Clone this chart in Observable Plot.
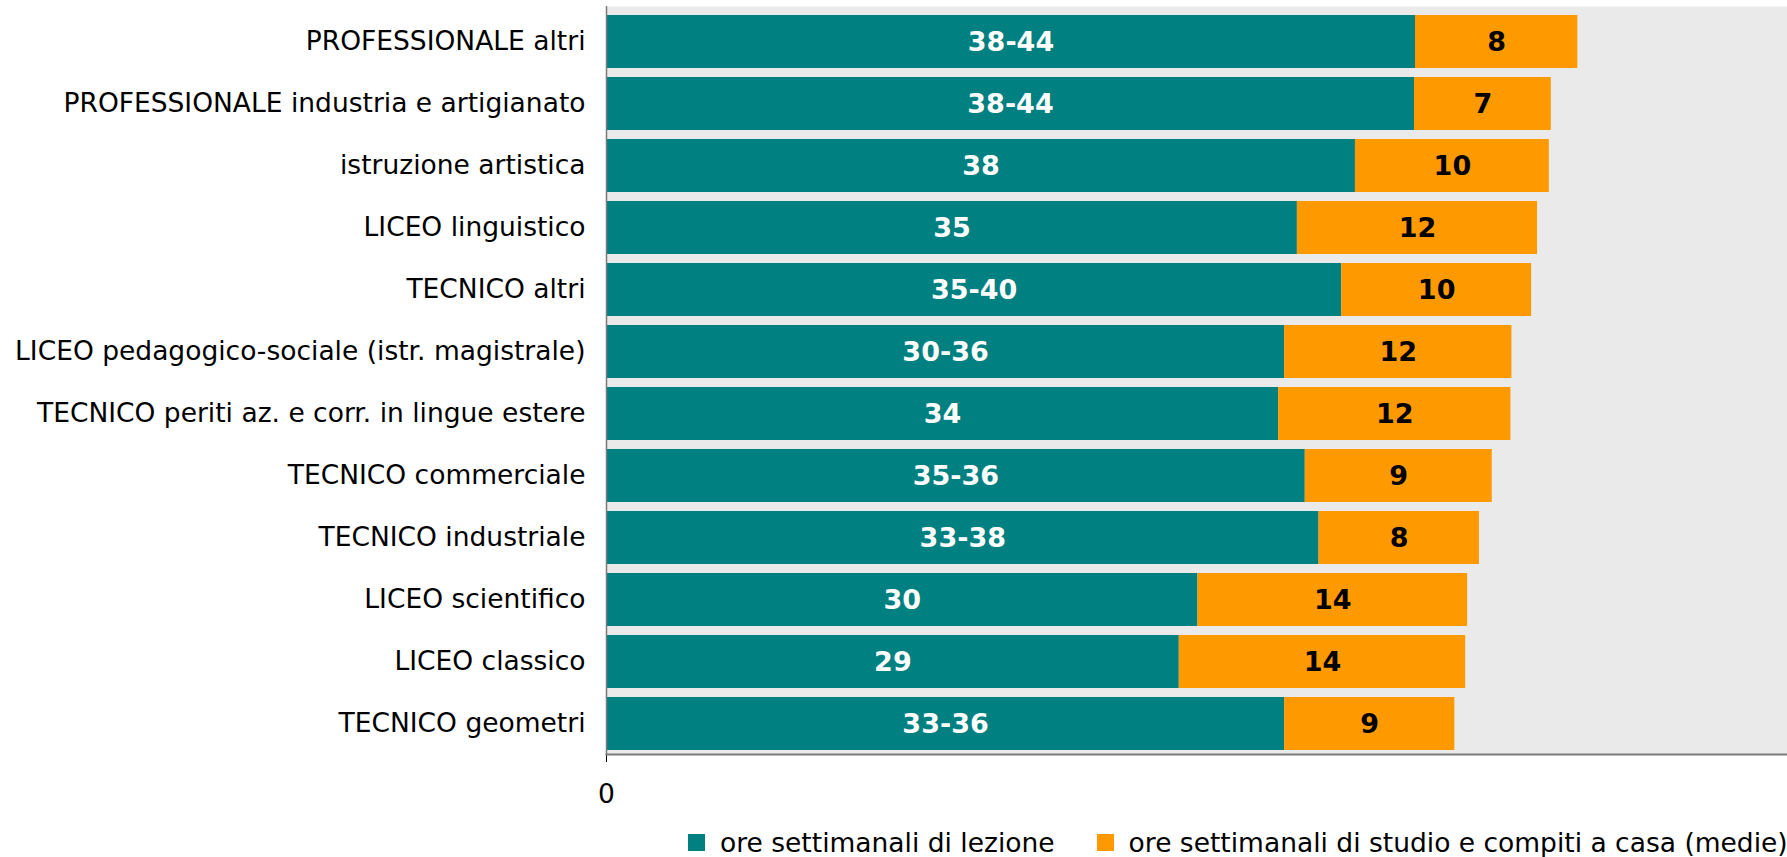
<!DOCTYPE html>
<html>
<head>
<meta charset="utf-8">
<script src="https://cdn.jsdelivr.net/npm/d3@7"></script>
<script src="https://cdn.jsdelivr.net/npm/@observablehq/plot@0.6"></script>
<style>
  body { margin: 0; background: #fff; font-family: "DejaVu Sans", Verdana, sans-serif; }
  #legend { display: flex; align-items: center; height: 64px; padding-left: 688px; font-size: 26.5px; color: #000; white-space: nowrap; }
  .sw { width: 17px; height: 17px; display: inline-block; margin-right: 15px; flex: none; }
  .item { display: flex; align-items: center; margin-right: 42px; flex: none; white-space: nowrap; }
</style>
</head>
<body>
<div id="chart"></div>
<div id="legend"></div>
<script>
const categories = [
  "PROFESSIONALE altri",
  "PROFESSIONALE industria e artigianato",
  "istruzione artistica",
  "LICEO linguistico",
  "TECNICO altri",
  "LICEO pedagogico-sociale (istr. magistrale)",
  "TECNICO periti az. e corr. in lingue estere",
  "TECNICO commerciale",
  "TECNICO industriale",
  "LICEO scientifico",
  "LICEO classico",
  "TECNICO geometri"
];
const lessonHours = [41.1, 41.05, 38.05, 35.1, 37.35, 34.45, 34.15, 35.5, 36.2, 30.05, 29.1, 34.45];
const lessonLabels = ["38-44", "38-44", "38", "35", "35-40", "30-36", "34", "35-36", "33-38", "30", "29", "33-36"];
const homeHours = [8.25, 6.95, 9.85, 12.2, 9.65, 11.55, 11.8, 9.5, 8.15, 13.7, 14.55, 8.65];
const homeLabels = ["8", "7", "10", "12", "10", "12", "12", "9", "8", "14", "14", "9"];
const seriesNames = ["ore settimanali di lezione", "ore settimanali di studio e compiti a casa (medie)"];
const seriesColors = ["#008080", "#ff9900"];
const xTicks = [0];

const rows = categories.map((c, i) => ({
  cat: c,
  lesson: lessonHours[i],
  lessonLabel: lessonLabels[i],
  home: homeHours[i],
  homeLabel: homeLabels[i],
  total: lessonHours[i] + homeHours[i]
}));

const W = 1787, H = 810;
const chart = Plot.plot({
  width: W,
  height: H,
  marginLeft: 606,
  marginRight: 0,
  marginTop: 6,
  marginBottom: H - 754,
  style: { fontFamily: "DejaVu Sans, Verdana, sans-serif", fontSize: "26.5px", color: "#000", background: "#fff" },
  x: { domain: [0, 60], ticks: xTicks, tickSize: 8, tickPadding: 22, tickFormat: d => String(d), label: null },
  y: { domain: categories, paddingInner: 0.151, paddingOuter: 0.0966, align: 0.64, tickSize: 0, tickPadding: 21, label: null },
  marks: [
    Plot.frame({ fill: "#eaeaea" }),
    Plot.barX(rows, { y: "cat", x1: 0, x2: "lesson", fill: seriesColors[0] }),
    Plot.barX(rows, { y: "cat", x1: "lesson", x2: "total", fill: seriesColors[1] }),
    Plot.text(rows, { y: "cat", x: d => d.lesson / 2, text: "lessonLabel", fill: "#fff", fontWeight: "bold", fontSize: 27 }),
    Plot.text(rows, { y: "cat", x: d => (d.lesson + d.total) / 2, text: "homeLabel", fill: "#000", fontWeight: "bold", fontSize: 27 }),
    Plot.frame({ anchor: "bottom", stroke: "#7a7a7a", strokeWidth: 2 }),
    Plot.ruleX(xTicks, { stroke: "#7a7a7a", strokeWidth: 1.5 })
  ]
});
document.getElementById("chart").appendChild(chart);

const legend = document.getElementById("legend");
seriesNames.forEach((n, i) => {
  const it = document.createElement("span");
  it.className = "item";
  const sw = document.createElement("span");
  sw.className = "sw";
  sw.style.background = seriesColors[i];
  it.appendChild(sw);
  it.appendChild(document.createTextNode(n));
  legend.appendChild(it);
});
</script>
</body>
</html>
